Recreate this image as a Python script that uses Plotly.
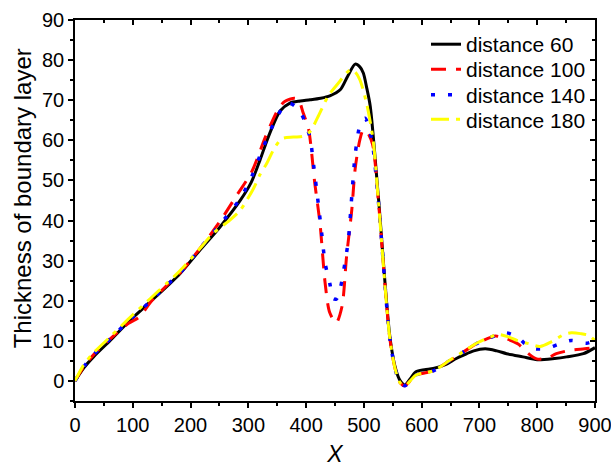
import plotly.graph_objects as go

# ---------------- data ----------------
x60 = [0, 15, 32, 61, 95, 130, 160, 182, 216, 251, 286, 305, 320, 335, 355, 372, 390, 407, 425, 441, 459,
       472, 485, 493, 499, 505, 511, 525, 545, 555, 563, 571, 580, 590, 605, 620, 640, 660, 672, 690, 710,
       730, 747, 775, 800, 830, 851, 880, 900]
y60 = [0, 3.2, 6, 10.1, 15.1, 19.7, 23.7, 26.8, 32.6, 38.4, 45, 49.5, 55, 61, 67.3, 69.3, 69.8, 70.1, 70.5, 71.1, 72.6,
       76, 79, 78.3, 76.8, 73, 68.5, 46, 11, 3, 0, -1, 0.5, 2.3, 2.8, 3.1, 4, 5.6, 6.4, 7.5, 8,
       7.5, 6.8, 6, 5.3, 5.6, 6, 6.8, 8.3]

x100 = [0, 15, 32, 61, 92, 112, 130, 160, 182, 216, 251, 280, 306, 330, 352, 363, 380, 387, 395, 404, 415, 424,
        433, 441, 452, 462, 470, 479, 485, 493, 499, 506, 515, 525, 545, 555, 563, 571, 580, 590, 605, 620, 632,
        649, 672, 695, 718, 728, 747, 767, 785, 799, 818, 833, 859, 882, 900]
y100 = [0, 3.5, 6.5, 10.5, 14.3, 16, 19.5, 24, 27, 33, 39.8, 46.3, 52.2, 61, 67.8, 69.7, 70.5, 70.1, 66.8, 63, 49.3, 39.3,
        24.3, 17, 14.5, 18.5, 31, 42.6, 53, 60.1, 62.6, 62, 59, 45, 10.5, 2.5, -0.5, -1.2, 0, 1.5, 2, 2.5, 3.5,
        5.1, 7.2, 9.3, 10.8, 11.2, 10.5, 9.2, 6.8, 5.5, 5.7, 6.8, 7.7, 8, 8.3]

x140 = [0, 15, 32, 61, 95, 130, 160, 182, 216, 251, 286, 306, 325, 345, 363, 372, 381, 390, 398, 407, 412, 421,
        427, 433, 441, 447, 453, 459, 467, 473, 479, 485, 493, 502, 508, 515, 525, 545, 555, 563, 571, 580, 590,
        605, 620, 632, 649, 672, 695, 718, 735, 747, 767, 787, 813, 836, 859, 885, 900]
y140 = [0, 3.5, 6.5, 10.5, 15.3, 19.8, 24, 27, 33, 39, 45.5, 51, 58, 64.5, 68.8, 69.2, 68.5, 67, 64.7, 60.5, 55, 44.3,
        36.8, 29.3, 24.3, 20.5, 20.5, 23, 29.3, 35, 46, 56.5, 63.5, 65.5, 63.5, 59, 45, 10.5, 2.5, -0.5, -1.2, 0, 1.5,
        2, 2.5, 3.5, 5.1, 7.2, 9.3, 10.8, 11.6, 12, 10.8, 8.3, 8.0, 9.1, 10.1, 9.4, 10.1]

x180 = [0, 15, 32, 61, 95, 130, 160, 182, 216, 239, 268, 286, 309, 320, 332, 345, 358, 378, 395, 407, 421, 438,
        456, 470, 477, 485, 493, 505, 516, 525, 545, 555, 563, 571, 580, 590, 605, 620, 632, 649, 672, 695, 718,
        733, 750, 765, 785, 805, 825, 847, 859, 875, 888, 900]
y180 = [0, 4, 7, 11, 15.8, 20.5, 24.5, 27.5, 33, 36.8, 40.1, 42.6, 48, 51.4, 54.3, 58, 60.4, 60.8, 61, 62.2, 66, 71,
        74.3, 76.8, 77.6, 77, 75.1, 69, 60, 45, 10.5, 2.5, -0.5, -1.2, 0, 1.5, 2, 2.5, 3.5, 5.2, 7.3, 9.4, 10.9,
        11.6, 11, 10.1, 9.3, 8.6, 9.8, 11.6, 12, 11.8, 11.4, 10.1]

names = ["distance 60", "distance 100", "distance 140", "distance 180"]
colors = ["#000000", "#FF0000", "#0000FF", "#FFFF00"]
dashes = ["solid", "15px,10px", "4px,13px", "18px,7px,4px,7px"]
widths = [3, 3, 3.5, 3]

x_ticks = [0, 100, 200, 300, 400, 500, 600, 700, 800, 900]
y_ticks = [0, 10, 20, 30, 40, 50, 60, 70, 80, 90]

FONT = "Arial, Liberation Sans, sans-serif"

fig = go.Figure()
series = [(x60, y60), (x100, y100), (x140, y140), (x180, y180)]
legend_ids = ["legend", "legend2", "legend3", "legend4"]
for (xs, ys), nm, c, d, w, lg in zip(series, names, colors, dashes, widths, legend_ids):
    fig.add_trace(go.Scatter(x=xs, y=ys, mode="lines", name=nm, legend=lg,
                             line=dict(color=c, width=w, dash=d, shape="spline", smoothing=0.8)))

# dummy trace for top/right mirror axes
fig.add_trace(go.Scatter(x=[None], y=[None], xaxis="x2", yaxis="y2", showlegend=False, hoverinfo="skip"))

axis_common = dict(showgrid=False, zeroline=False, showline=True, linecolor="black", linewidth=1.5,
                   automargin=False)

legend_rows_px = [45, 70, 95.5, 120]
plot_top, plot_h = 20.5, 380.2
leg = {}
for lg, py in zip(legend_ids, legend_rows_px):
    leg[lg] = dict(x=0.675, y=1 - (py - plot_top) / plot_h, xanchor="left", yanchor="middle",
                   bgcolor="rgba(0,0,0,0)", font=dict(size=21, family=FONT), borderwidth=0)

fig.update_layout(
    width=611, height=467,
    margin=dict(l=75, r=16, t=20, b=66),
    paper_bgcolor="white", plot_bgcolor="white",
    font=dict(family=FONT, color="black"),
    xaxis=dict(range=[0, 900], tickvals=x_ticks, ticktext=[str(v) for v in x_ticks],
               ticks="outside", ticklen=5, tickwidth=1.5, tickcolor="black",
               minor=dict(dtick=50, ticks="outside", ticklen=3, tickwidth=1.5, tickcolor="black"),
               tickfont=dict(size=20, family=FONT), ticklabeloverflow="allow",
               title=dict(text="<i>X</i>", font=dict(size=23, family=FONT), standoff=16),
               **axis_common),
    yaxis=dict(range=[-5, 90], tickvals=y_ticks, ticktext=[str(v) for v in y_ticks],
               ticks="outside", ticklen=5, tickwidth=1.5, tickcolor="black",
               minor=dict(dtick=5, tick0=0, ticks="outside", ticklen=3, tickwidth=1.5, tickcolor="black"),
               tickfont=dict(size=20, family=FONT), ticklabeloverflow="allow",
               **axis_common),
    xaxis2=dict(range=[0, 900], overlaying="x", side="top", anchor="y2", tickvals=x_ticks,
                showticklabels=False, ticks="inside", ticklen=5, tickwidth=1.5, tickcolor="black",
                minor=dict(dtick=50, ticks="inside", ticklen=3, tickwidth=1.5, tickcolor="black"),
                **axis_common),
    yaxis2=dict(range=[-5, 90], overlaying="y", side="right", anchor="x2", tickvals=y_ticks,
                showticklabels=False, ticks="inside", ticklen=5, tickwidth=1.5, tickcolor="black",
                minor=dict(dtick=5, tick0=0, ticks="inside", ticklen=3, tickwidth=1.5, tickcolor="black"),
                **axis_common),
    annotations=[dict(text="Thickness of boundary layer", textangle=-90, xref="paper", yref="paper",
                      x=(22 - 75) / 520, y=1 - (198.5 - plot_top) / plot_h, xanchor="center", yanchor="middle",
                      showarrow=False, font=dict(size=24, family=FONT))],
    showlegend=True,
    **leg,
)

fig.write_html("out.html")
